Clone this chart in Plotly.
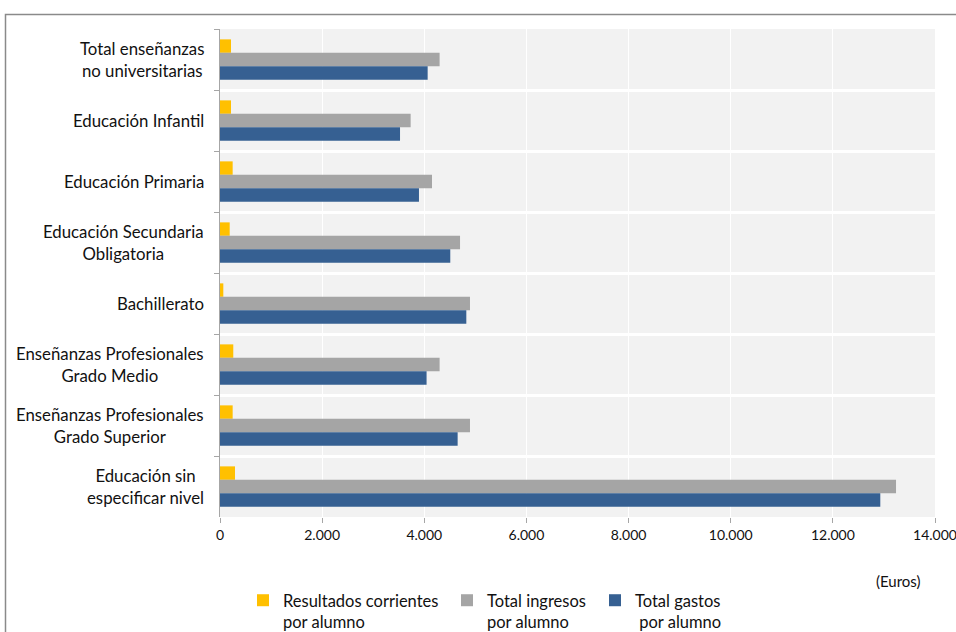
import plotly.graph_objects as go

categories = [
    "Total enseñanzas<br>no universitarias",
    "Educación Infantil",
    "Educación Primaria",
    "Educación Secundaria<br>Obligatoria",
    "Bachillerato",
    "Enseñanzas Profesionales<br>Grado Medio",
    "Enseñanzas Profesionales<br>Grado Superior",
    "Educación sin<br>especificar nivel",
]
resultados = [215, 215, 248, 190, 65, 260, 248, 294]
ingresos = [4300, 3733, 4151, 4700, 4895, 4300, 4895, 13237]
gastos = [4066, 3525, 3896, 4509, 4823, 4045, 4653, 12929]

series_names = [
    "Resultados corrientes<br>por alumno",
    "Total ingresos<br>por alumno",
    "Total gastos<br>\u00a0por alumno",
]
colors = ["#FFC000", "#A5A5A5", "#366092"]
FONT = "Lato"

W, H = 956, 632
# plot area in page pixels: x 220..935, y 29..517
ML, MR, MT, MB = 220, W - 935, 29, H - 517
PW, PH = W - ML - MR, H - MT - MB

def px_x(x):  # page px -> paper
    return (x - ML) / PW

def px_y(y):  # page px -> paper
    return (H - MB - y) / PH

fig = go.Figure()
for vals, name, col, lg in zip([resultados, ingresos, gastos], series_names, colors,
                               ["legend", "legend2", "legend3"]):
    fig.add_trace(go.Bar(
        y=categories, x=vals, orientation="h", name=name,
        marker=dict(color=col, line=dict(width=0)), legend=lg, showlegend=True,
    ))

annotations = []
for c in categories:
    annotations.append(dict(
        x=0, xref="paper", y=c, yref="y", xanchor="right", yanchor="middle",
        xshift=-14, text=c, showarrow=False, align="center",
        font=dict(family=FONT, size=16.8, color="#111111"),
    ))
annotations.append(dict(
    x=px_x(923), xref="paper", y=px_y(581), yref="paper", xanchor="right",
    yanchor="middle", text="(Euros)", showarrow=False,
    font=dict(family=FONT, size=15, color="#111111"),
))

legend_common = dict(
    orientation="v", xanchor="left", yanchor="top", valign="top",
    bgcolor="rgba(0,0,0,0)", font=dict(family=FONT, size=16.5, color="#111111"),
    itemclick=False,
)
LEG_TOP = px_y(583)

fig.update_layout(
    width=W, height=H,
    margin=dict(l=ML, r=MR, t=MT, b=MB, autoexpand=False),
    paper_bgcolor="white", plot_bgcolor="#F2F2F2",
    barmode="group", bargap=0.34, bargroupgap=0,
    separators=",.", showlegend=True,
    font=dict(family=FONT, size=14, color="#111111"),
    xaxis=dict(
        range=[0, 14000], dtick=2000, tick0=0, tickformat=",d",
        showgrid=True, gridcolor="white", gridwidth=1,
        ticks="outside", ticklen=5, tickcolor="#a6a6a6",
        showline=False, zeroline=False, ticklabeloverflow="allow",
        tickfont=dict(family=FONT, size=14, color="#111111"),
    ),
    yaxis=dict(
        autorange="reversed", type="category", tickson="boundaries",
        showticklabels=False, ticks="outside", ticklen=5, tickcolor="#a6a6a6",
        showgrid=True, gridcolor="white", gridwidth=2.5,
        showline=True, linecolor="#a6a6a6", linewidth=1,
    ),
    annotations=annotations,
    legend=dict(x=px_x(243), y=LEG_TOP, **legend_common),
    legend2=dict(x=px_x(447), y=LEG_TOP, **legend_common),
    legend3=dict(x=px_x(595), y=LEG_TOP, **legend_common),
    shapes=[dict(
        type="path", xref="paper", yref="paper",
        path=f"M {px_x(5.5)},{px_y(660)} L {px_x(5.5)},{px_y(14.5)} L {px_x(980)},{px_y(14.5)}",
        line=dict(color="#8a8a8a", width=1.5),
    )],
)

fig.write_html(
    "out.html",
    config={"displayModeBar": False},
    post_script="document.body.style.margin='0';document.body.style.overflow='hidden';",
)
